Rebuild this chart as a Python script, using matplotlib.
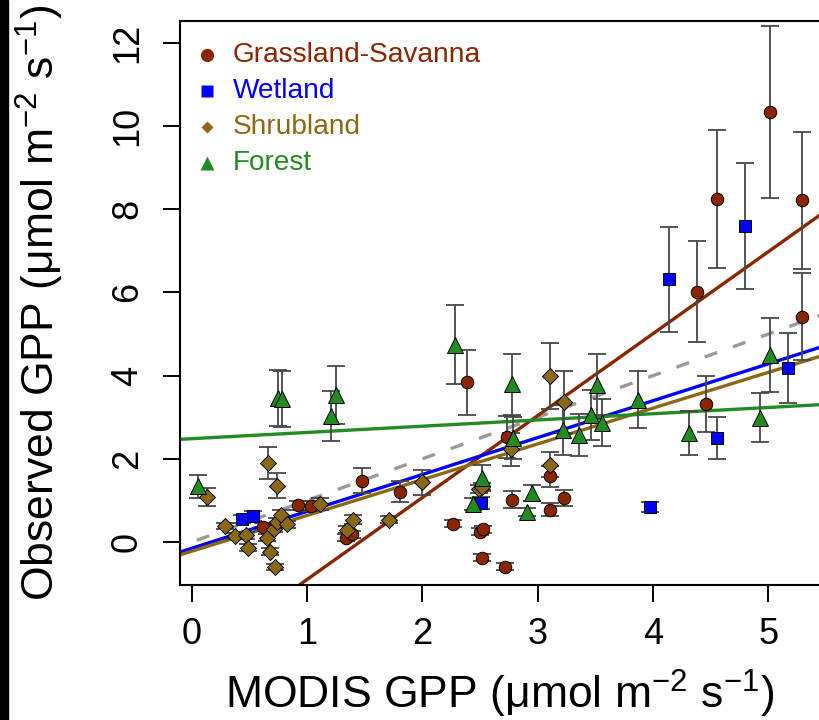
import numpy as np
import matplotlib.pyplot as plt
from matplotlib.patches import Rectangle

plt.rcParams['font.family'] = ['Liberation Sans', 'DejaVu Sans']
plt.rcParams['mathtext.fontset'] = 'custom'
plt.rcParams['mathtext.rm'] = 'Liberation Sans'
plt.rcParams['mathtext.it'] = 'Liberation Sans:italic'

# Grassland-Savanna
gs_x = [0.62, 0.92, 1.035, 1.34, 1.39, 1.475, 1.81, 2.27, 2.39, 2.50, 2.53, 2.52,
        2.72, 2.73, 2.775, 3.11, 3.11, 3.23, 4.38, 4.46, 4.55, 5.01, 5.29, 5.29]
gs_y = [0.37, 0.88, 0.87, 0.11, 0.19, 1.48, 1.21, 0.44, 3.84, 0.25, 0.31, -0.37,
        -0.59, 2.52, 1.02, 1.58, 0.78, 1.06, 6.02, 3.31, 8.24, 10.33, 8.21, 5.42]
gs_e = [0.08, 0.12, 0.12, 0.08, 0.08, 0.30, 0.25, 0.08, 0.78, 0.08, 0.08, 0.08,
        0.08, 0.50, 0.20, 0.25, 0.15, 0.20, 1.22, 0.67, 1.66, 2.07, 1.64, 1.05]

# Wetland
wl_x = [0.44, 0.535, 2.505, 3.97, 4.14, 4.55, 4.80, 5.17]
wl_y = [0.56, 0.63, 0.94, 0.84, 6.31, 2.50, 7.59, 4.18]
wl_e = [0.10, 0.12, 0.15, 0.12, 1.27, 0.50, 1.51, 0.84]

# Shrubland
sh_x = [0.137, 0.29, 0.38, 0.47, 0.49, 0.65, 0.666, 0.68, 0.715, 0.72, 0.74, 0.74,
        0.776, 0.825, 1.11, 1.345, 1.40, 1.71, 2.00, 2.49, 2.52, 2.77, 3.11, 3.11, 3.23]
sh_y = [1.09, 0.39, 0.15, 0.16, -0.13, 0.11, 1.90, -0.23, 0.32, -0.60, 1.36, 0.49,
        0.66, 0.43, 0.91, 0.30, 0.54, 0.54, 1.44, 1.28, 1.32, 2.23, 4.00, 1.86, 3.36]
sh_e = [0.22, 0.08, 0.08, 0.08, 0.08, 0.08, 0.38, 0.08, 0.08, 0.08, 0.29, 0.08,
        0.10, 0.08, 0.15, 0.08, 0.10, 0.08, 0.30, 0.10, 0.10, 0.40, 0.79, 0.30, 0.75]

# Forest
fo_x = [0.06, 0.75, 0.78, 1.21, 1.25, 2.28, 2.44, 2.52, 2.775, 2.79, 2.91, 2.95,
        3.22, 3.36, 3.46, 3.515, 3.56, 3.87, 4.31, 4.93, 5.01]
fo_y = [1.34, 3.46, 3.44, 3.02, 3.54, 4.74, 0.92, 1.55, 3.79, 2.50, 0.73, 1.18,
        2.70, 2.58, 3.06, 3.78, 2.87, 3.42, 2.62, 2.99, 4.50]
fo_e = [0.27, 0.68, 0.68, 0.60, 0.70, 0.95, 0.15, 0.30, 0.74, 0.50, 0.10, 0.20,
        0.60, 0.50, 0.60, 0.73, 0.57, 0.69, 0.52, 0.59, 0.89]

# fitted lines (intercept, slope)
fit_gs = (-2.87, 1.97)
fit_wl = (-0.15, 0.887)
fit_sh = (-0.22, 0.86)
fit_fo = (2.485, 0.15)

groups = [
    ('Grassland-Savanna', gs_x, gs_y, gs_e, fit_gs, '#8B2500', 'o', 9, 'o', 9.5),
    ('Wetland', wl_x, wl_y, wl_e, fit_wl, '#0000FF', 's', 8, 's', 9),
    ('Shrubland', sh_x, sh_y, sh_e, fit_sh, '#8B6914', 'D', 8, 'D', 6),
    ('Forest', fo_x, fo_y, fo_e, fit_fo, '#228B22', '^', 11.5, '^', 10.5),
]

fig = plt.figure(figsize=(8.19, 7.2), dpi=100)
ax = fig.add_axes([180 / 819, 135 / 720, 680.8 / 819, 564 / 720])
ax.set_xlim(-0.1, 5.8)
ax.set_ylim(-1.03, 12.52)

xs = np.array([-0.2, 6.0])
# 1:1 line
ax.plot(xs, xs, color='#999999', lw=2.4, dashes=(4, 5), zorder=2)
for name, x, y, e, fit, col, mk, ms, lmk, lms in groups:
    ax.plot(xs, fit[0] + fit[1] * xs, color=col, lw=2.4, zorder=2)

for name, x, y, e, fit, col, mk, ms, lmk, lms in groups:
    ax.errorbar(x, y, yerr=e, fmt='none', ecolor='#484848', elinewidth=1.3,
                capsize=6.5, capthick=1.3, zorder=3)
    ax.plot(x, y, linestyle='none', marker=mk, ms=ms, mfc=col, mec='black',
            mew=0.7, zorder=4)

# legend without box
for i, (name, x, y, e, fit, col, mk, ms, lmk, lms) in enumerate(groups):
    ly = 1 - (55 + i * 36.1 - 21) / 564
    ax.plot([(206.7 - 180) / 680.8], [ly], marker=lmk, ms=lms, color=col,
            mec='none', transform=ax.transAxes, clip_on=False, zorder=5)
    ax.text((233 - 180) / 680.8, ly, name, color=col, fontsize=20.2,
            va='center', ha='left', transform=ax.transAxes)

ax.set_xticks([0, 1, 2, 3, 4, 5])
ax.set_yticks([0, 2, 4, 6, 8, 10, 12])
ax.tick_params(axis='both', length=12.2, width=1.4, labelsize=26)
ax.tick_params(axis='x', pad=11)
ax.tick_params(axis='y', pad=13, labelrotation=90)
for lab in ax.get_yticklabels():
    lab.set_va('center')
for sp in ax.spines.values():
    sp.set_linewidth(1.5)

fig.text(500 / 819, 1 - 709 / 720, 'MODIS GPP (μmol m$^{-2}$ s$^{-1}$)',
         fontsize=32, ha='center', va='baseline')
fig.text(40 / 819, 1 - 303 / 720, 'Observed GPP (μmol m$^{-2}$ s$^{-1}$)',
         fontsize=32, ha='center', va='center', rotation=90)

fig.patches.append(Rectangle((0, 0), 8 / 819, 1, transform=fig.transFigure,
                             color='black', zorder=10))

fig.savefig('out.png', dpi=100)
